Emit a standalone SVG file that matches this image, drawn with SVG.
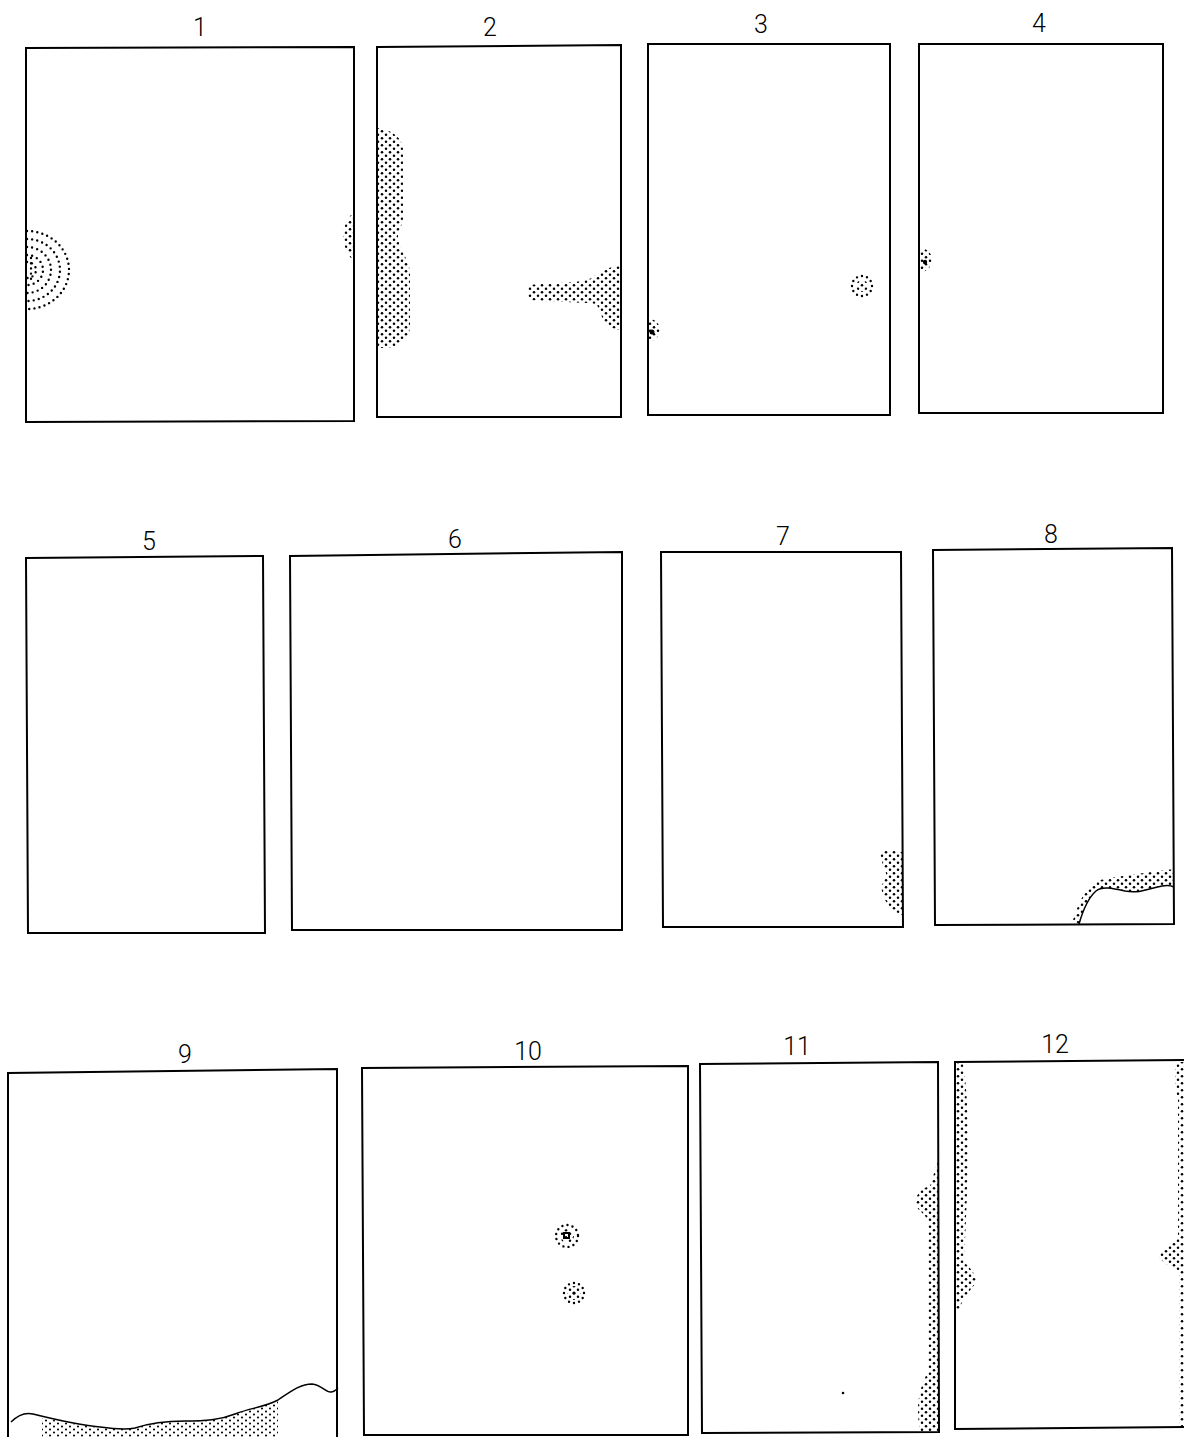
<svg xmlns="http://www.w3.org/2000/svg" width="1184" height="1437" viewBox="0 0 1184 1437">
<style>
.frame{fill:none;stroke:#000;stroke-width:2;stroke-linejoin:miter}
.dots{fill:url(#dotpat);stroke:none}
.dense{fill:url(#densepat);stroke:none}
.ring{fill:none;stroke:#000;stroke-width:2.4;stroke-linecap:round;stroke-dasharray:0 5.2}
.wave{fill:none;stroke:#000;stroke-width:1.5}
.core{fill:#000}
.label{font-family:Roboto,"Liberation Sans",sans-serif;font-weight:300;font-size:25px;text-anchor:middle;fill:#000}
</style>
<defs>
<pattern id="dotpat" width="8" height="7" patternUnits="userSpaceOnUse">
<circle cx="2" cy="1.75" r="1.25" fill="#000"/>
<circle cx="6" cy="5.25" r="1.25" fill="#000"/>
</pattern>
<pattern id="densepat" width="8" height="6" patternUnits="userSpaceOnUse">
<circle cx="2" cy="1.5" r="1.05" fill="#000"/>
<circle cx="6" cy="4.5" r="1.05" fill="#000"/>
</pattern>
</defs>
<rect width="1184" height="1437" fill="#fff"/>

<g id="p1">
<text class="label" x="200" y="36">1</text>
<path class="frame" d="M26,48 L354,47 L354,421 L26,422 Z"/>
<path class="ring" d="M27,231 A42,39 0 0 1 27,309"/>
<path class="ring" d="M27,239 A33,31 0 0 1 27,301"/>
<path class="ring" d="M27,247 A24,23 0 0 1 27,293"/>
<path class="ring" d="M27,255 A16,15 0 0 1 27,285"/>
<path class="ring" d="M27,262 A9,8 0 0 1 27,278"/>
<path class="ring" d="M31,258 L31,282"/>
<path class="dots" d="M354,211 Q332,236 354,262 Z"/>
</g>

<g id="p2">
<text class="label" x="490" y="36">2</text>
<path class="frame" d="M377,47 L621,45 L621,417 L377,417 Z"/>
<path class="dots" d="M378,128 C392,130 403,138 403,150 L403,218 C403,226 398,229 398,236 C398,250 410,258 410,275 L410,325 C410,340 400,347 385,348 L378,348 Z"/>
<path class="dots" d="M528,285 C560,282 583,284 593,277 C602,270 612,266 621,265 L621,330 C610,330 601,320 597,304 C580,302 555,302 528,300 Z"/>
</g>

<g id="p3">
<text class="label" x="761" y="33">3</text>
<path class="frame" d="M648,44 L890,44 L890,415 L648,415 Z"/>
<circle class="ring" cx="862" cy="286" r="10"/>
<circle class="dots" cx="862" cy="286" r="6"/>
<path class="dots" d="M649,319 A11,11 0 0 1 649,341 Z"/>
<circle class="core" cx="652" cy="332" r="2.5"/>
</g>

<g id="p4">
<text class="label" x="1039" y="32">4</text>
<path class="frame" d="M919,44 L1163,44 L1163,413 L919,413 Z"/>
<path class="dots" d="M920,248 A12,12 0 0 1 920,272 Z"/>
<circle class="core" cx="925" cy="262" r="2.2"/>
</g>

<g id="p5">
<text class="label" x="149" y="550">5</text>
<path class="frame" d="M26,558 L263,556 L265,933 L28,933 Z"/>
</g>

<g id="p6">
<text class="label" x="455" y="548">6</text>
<path class="frame" d="M290,556 L622,552 L622,930 L292,930 Z"/>
</g>

<g id="p7">
<text class="label" x="783" y="545">7</text>
<path class="frame" d="M661,552 L901,552 L903,927 L663,927 Z"/>
<path class="dots" d="M880,852 C886,850 895,850 902,852 L903,915 C897,914 890,908 885,900 C881,892 880,885 886,878 C888,872 881,865 880,852 Z"/>
</g>

<g id="p8">
<text class="label" x="1051" y="543">8</text>
<path class="frame" d="M933,550 L1172,548 L1174,924 L935,925 Z"/>
<path class="dots" d="M1079,924 C1083,910 1088,898 1096,891 C1102,886 1112,888 1125,891 C1140,894 1150,888 1162,886 C1168,885 1172,886 1174,887 L1174,869 C1150,872 1120,876 1100,880 C1088,884 1080,898 1073,920 Z"/>
<path class="wave" d="M1079,924 C1083,910 1088,898 1096,891 C1102,886 1112,888 1125,891 C1140,894 1150,888 1162,886 C1168,885 1172,886 1174,887"/>
</g>

<g id="p9">
<text class="label" x="185" y="1063">9</text>
<path class="frame" d="M8,1442 L8,1073 L337,1069 L337,1442"/>
<path class="dense" d="M42,1418 C60,1421 85,1426 100,1427 C115,1429 125,1430 135,1428 C150,1423 165,1421 185,1421 C205,1421 220,1420 235,1414 C250,1408 265,1407 278,1400 L278,1440 L42,1440 Z"/>
<path class="wave" d="M11,1422 C18,1415 25,1412 33,1414 C45,1417 80,1425 100,1427 C115,1429 125,1430 135,1428 C150,1423 165,1421 185,1421 C205,1421 220,1420 235,1414 C250,1408 265,1407 278,1400 C290,1392 300,1384 312,1384 C322,1385 326,1393 331,1392 C334,1392 336,1390 338,1388"/>
</g>

<g id="p10">
<text class="label" x="528" y="1060">10</text>
<path class="frame" d="M362,1068 L688,1066 L688,1435 L364,1435 Z"/>
<circle class="ring" cx="567" cy="1236" r="11"/>
<circle class="dots" cx="567" cy="1236" r="7"/>
<path class="core" d="M563,1232 h7 v7 h-7 Z M565,1234 v3 h3 v-3 Z" fill-rule="evenodd"/>
<circle class="ring" cx="574" cy="1293" r="10"/>
<circle class="dots" cx="574" cy="1293" r="7"/>
<circle class="core" cx="574" cy="1293" r="1.6"/>
</g>

<g id="p11">
<text class="label" x="797" y="1055">11</text>
<path class="frame" d="M700,1064 L938,1062 L939,1432 L702,1433 Z"/>
<path class="dots" d="M938,1162 C934,1170 933,1180 930,1186 C922,1188 914,1195 916,1205 C918,1212 926,1213 928,1222 L928,1372 C922,1382 918,1396 918,1410 C918,1420 919,1428 921,1432 L939,1432 Z"/>
<circle class="core" cx="843" cy="1393" r="1.3"/>
</g>

<g id="p12">
<text class="label" x="1055" y="1053">12</text>
<path class="frame" d="M1186,1060 L955,1062 L955,1429 L1186,1427"/>
<path class="dots" d="M955,1063 L963,1063 C966,1080 968,1110 968,1140 C968,1180 966,1220 964,1262 C970,1268 978,1276 976,1283 C970,1290 962,1300 958,1312 L955,1312 Z"/>
<path class="dots" d="M1176,1062 L1186,1062 L1186,1428 L1179,1428 L1179,1272 C1171,1266 1160,1262 1158,1255 C1162,1248 1172,1245 1178,1236 L1178,1100 C1175,1090 1174,1075 1176,1062 Z"/>
</g>
</svg>
